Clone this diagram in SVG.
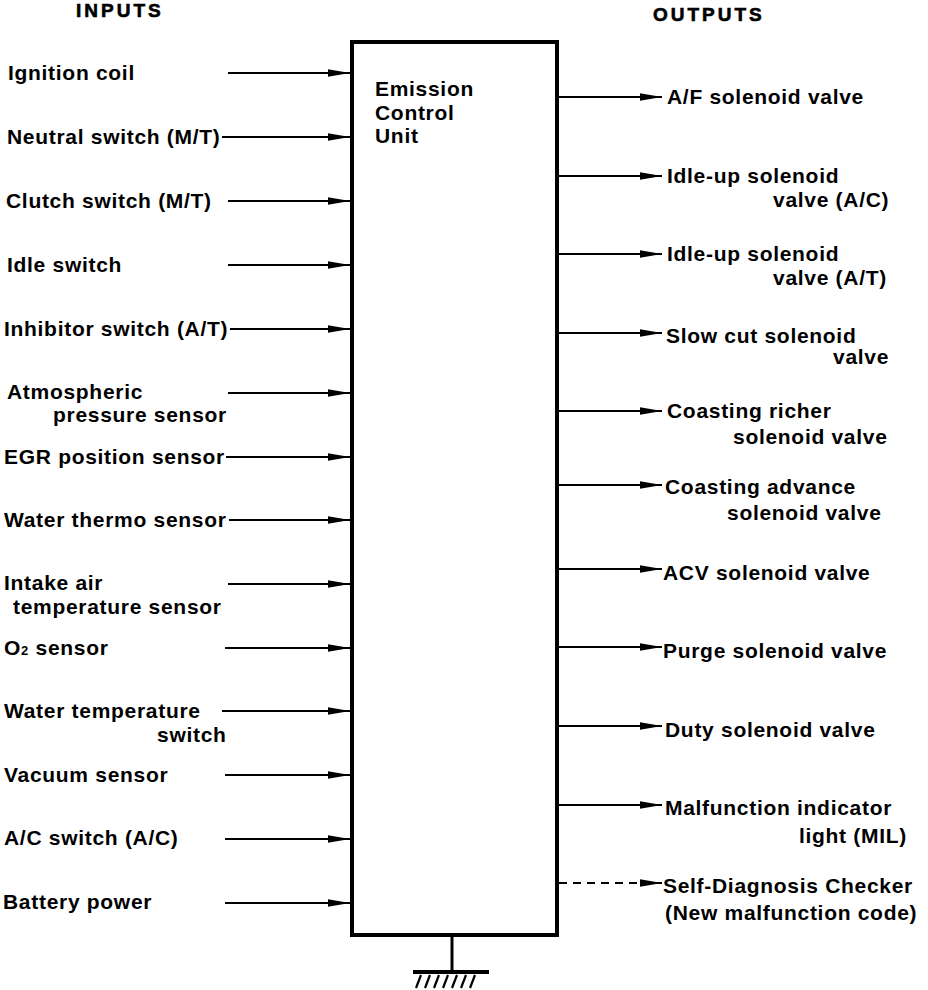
<svg xmlns="http://www.w3.org/2000/svg" width="928" height="990" viewBox="0 0 928 990">
<style>
text{font-family:"Liberation Sans",Arial,sans-serif;font-weight:bold;font-size:21px;letter-spacing:0.7px;fill:#000}
.hd{font-size:19px;letter-spacing:3px;stroke:#000;stroke-width:0.6}
.c{stroke:#000;stroke-width:2;fill:none}
.d{stroke-dasharray:8 6}
</style>
<defs>
<marker id="ah" markerWidth="24" markerHeight="10" refX="22" refY="5" orient="auto" markerUnits="userSpaceOnUse"><path d="M0,1.2 L22,5 L0,8.8 Q-1.5,5 0,1.2Z" fill="#000"/></marker>
</defs>
<text class="hd" x="76" y="17">INPUTS</text>
<text class="hd" x="653" y="21">OUTPUTS</text>
<g id="ecu">
<rect x="352" y="42" width="205" height="893" fill="#fff" stroke="#000" stroke-width="4"/>
<text x="375" y="96">Emission</text>
<text x="375" y="120">Control</text>
<text x="375" y="143">Unit</text>
</g>
<g id="ground" stroke="#000">
<line x1="452" y1="937" x2="452" y2="971" stroke-width="3"/>
<line x1="413" y1="972" x2="489" y2="972" stroke-width="4"/>
<g stroke-width="2.2">
<line x1="421" y1="975" x2="416" y2="988"/>
<line x1="430" y1="975" x2="425" y2="988"/>
<line x1="439" y1="975" x2="434" y2="988"/>
<line x1="448" y1="975" x2="443" y2="988"/>
<line x1="457" y1="975" x2="452" y2="988"/>
<line x1="466" y1="975" x2="461" y2="988"/>
<line x1="475" y1="975" x2="470" y2="988"/>
</g>
</g>
<g id="connectors">
<line class="c" x1="228" y1="73" x2="350" y2="73" marker-end="url(#ah)"/>
<line class="c" x1="222" y1="137" x2="350" y2="137" marker-end="url(#ah)"/>
<line class="c" x1="228" y1="201" x2="350" y2="201" marker-end="url(#ah)"/>
<line class="c" x1="228" y1="265" x2="350" y2="265" marker-end="url(#ah)"/>
<line class="c" x1="230" y1="329" x2="350" y2="329" marker-end="url(#ah)"/>
<line class="c" x1="228" y1="393" x2="350" y2="393" marker-end="url(#ah)"/>
<line class="c" x1="226" y1="457" x2="350" y2="457" marker-end="url(#ah)"/>
<line class="c" x1="229" y1="520" x2="350" y2="520" marker-end="url(#ah)"/>
<line class="c" x1="228" y1="584" x2="350" y2="584" marker-end="url(#ah)"/>
<line class="c" x1="225" y1="648" x2="350" y2="648" marker-end="url(#ah)"/>
<line class="c" x1="222" y1="711" x2="350" y2="711" marker-end="url(#ah)"/>
<line class="c" x1="225" y1="775" x2="350" y2="775" marker-end="url(#ah)"/>
<line class="c" x1="225" y1="839" x2="350" y2="839" marker-end="url(#ah)"/>
<line class="c" x1="225" y1="903" x2="350" y2="903" marker-end="url(#ah)"/>
<line class="c" x1="557" y1="97" x2="662" y2="97" marker-end="url(#ah)"/>
<line class="c" x1="557" y1="176" x2="662" y2="176" marker-end="url(#ah)"/>
<line class="c" x1="557" y1="254" x2="662" y2="254" marker-end="url(#ah)"/>
<line class="c" x1="557" y1="333" x2="662" y2="333" marker-end="url(#ah)"/>
<line class="c" x1="557" y1="411" x2="662" y2="411" marker-end="url(#ah)"/>
<line class="c" x1="557" y1="485" x2="662" y2="485" marker-end="url(#ah)"/>
<line class="c" x1="557" y1="569" x2="662" y2="569" marker-end="url(#ah)"/>
<line class="c" x1="557" y1="647" x2="662" y2="647" marker-end="url(#ah)"/>
<line class="c" x1="557" y1="726" x2="662" y2="726" marker-end="url(#ah)"/>
<line class="c" x1="557" y1="805" x2="662" y2="805" marker-end="url(#ah)"/>
<line class="c d" x1="559" y1="883" x2="642" y2="883"/>
<line class="c" x1="642" y1="883" x2="662" y2="883" marker-end="url(#ah)"/>
</g>
<g id="in-ignition"><text x="8" y="80">Ignition coil</text></g>
<g id="in-neutral"><text x="7" y="144">Neutral switch (M/T)</text></g>
<g id="in-clutch"><text x="6" y="208">Clutch switch (M/T)</text></g>
<g id="in-idle"><text x="7" y="272">Idle switch</text></g>
<g id="in-inhibitor"><text x="4" y="336" letter-spacing="0.4">Inhibitor switch (A/T)</text></g>
<g id="in-atmos"><text x="7" y="399">Atmospheric</text><text x="53" y="422">pressure sensor</text></g>
<g id="in-egr"><text x="4" y="464">EGR position sensor</text></g>
<g id="in-wts"><text x="4" y="527">Water thermo sensor</text></g>
<g id="in-intake"><text x="4" y="590">Intake air</text><text x="13" y="614">temperature sensor</text></g>
<g id="in-o2"><text x="4" y="655">O<tspan font-size="13">2</tspan> sensor</text></g>
<g id="in-wtsw"><text x="4" y="718">Water temperature</text><text x="157" y="742">switch</text></g>
<g id="in-vacuum"><text x="4" y="782">Vacuum sensor</text></g>
<g id="in-ac"><text x="4" y="845">A/C switch (A/C)</text></g>
<g id="in-battery"><text x="3" y="909">Battery power</text></g>
<g id="out-af"><text x="667" y="104">A/F solenoid valve</text></g>
<g id="out-idleac"><text x="667" y="183">Idle-up solenoid</text><text x="773" y="207">valve (A/C)</text></g>
<g id="out-idleat"><text x="667" y="261">Idle-up solenoid</text><text x="773" y="285">valve (A/T)</text></g>
<g id="out-slowcut"><text x="666" y="343">Slow cut solenoid</text><text x="833" y="364">valve</text></g>
<g id="out-richer"><text x="667" y="418">Coasting richer</text><text x="733" y="444">solenoid valve</text></g>
<g id="out-advance"><text x="665" y="494">Coasting advance</text><text x="727" y="520">solenoid valve</text></g>
<g id="out-acv"><text x="663" y="580">ACV solenoid valve</text></g>
<g id="out-purge"><text x="663" y="658">Purge solenoid valve</text></g>
<g id="out-duty"><text x="665" y="737">Duty solenoid valve</text></g>
<g id="out-mil"><text x="665" y="815">Malfunction indicator</text><text x="799" y="843">light (MIL)</text></g>
<g id="out-selfdiag"><text x="663" y="893">Self-Diagnosis Checker</text><text x="665" y="920">(New malfunction code)</text></g>
</svg>
